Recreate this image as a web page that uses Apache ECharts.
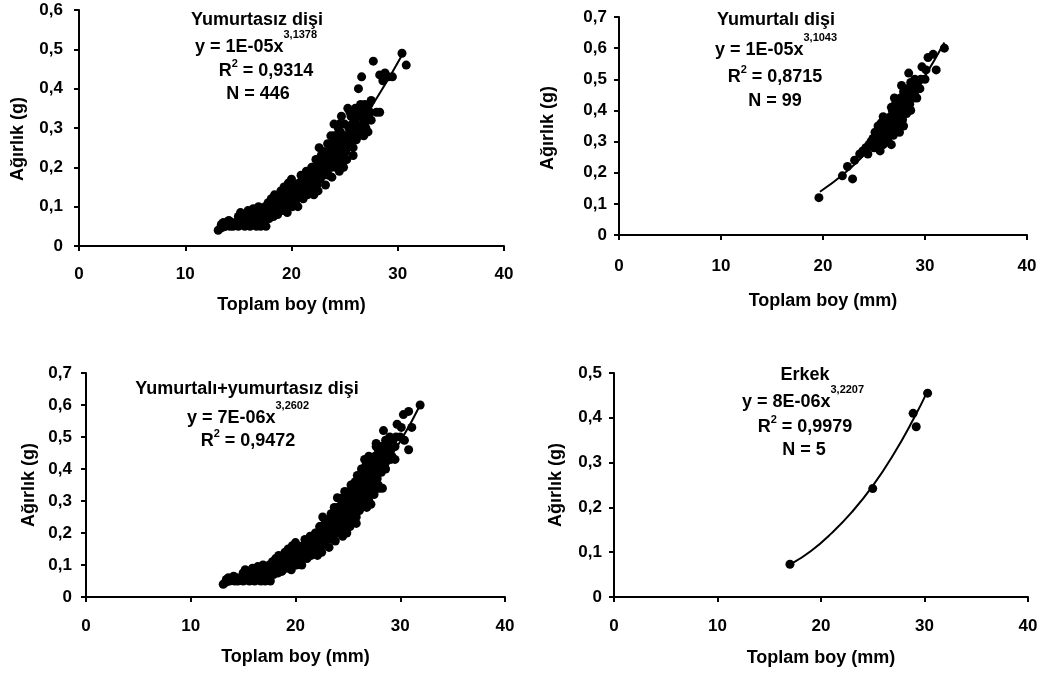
<!DOCTYPE html>
<html><head><meta charset="utf-8">
<script src="https://cdn.jsdelivr.net/npm/echarts@6/dist/echarts.min.js"></script>
<style>html,body{margin:0;padding:0;background:#fff}#c{width:1048px;height:675px}</style>
</head><body><div id="c"></div>
<script>
const FONT = "'Liberation Sans', Arial, Helvetica, sans-serif";

// Yumurtasız dişi: [Toplam boy (mm), Ağırlık (g)]
const yumurtasizPoints = [
[13.1,0.040],[13.3,0.045],[13.5,0.050],[13.6,0.060],[13.8,0.055],[14.0,0.060],[14.2,0.050],[14.4,0.060],[14.6,0.055],[14.8,0.060],
[15.0,0.050],[15.1,0.065],[15.2,0.085],[15.3,0.060],[15.5,0.070],[15.6,0.050],[15.7,0.080],[15.8,0.060],[15.9,0.090],[16.0,0.070],
[16.1,0.050],[16.2,0.080],[16.3,0.065],[16.4,0.095],[16.5,0.060],[16.6,0.075],[16.7,0.050],[16.8,0.085],[16.9,0.100],[17.0,0.065],
[17.1,0.050],[17.2,0.090],[17.3,0.075],[17.4,0.055],[17.5,0.100],[17.6,0.085],[17.7,0.070],[17.8,0.110],[17.9,0.090],[18.0,0.080],
[18.1,0.120],[18.2,0.100],[18.3,0.075],[18.4,0.130],[18.5,0.090],[18.6,0.110],[18.7,0.080],[18.8,0.120],[18.9,0.100],[19.0,0.140],
[19.1,0.090],[19.2,0.120],[19.3,0.150],[19.4,0.100],[19.5,0.130],[19.6,0.085],[19.7,0.160],[19.8,0.110],[19.9,0.140],[20.0,0.170],
[20.1,0.100],[20.2,0.130],[20.3,0.155],[20.4,0.115],[20.5,0.140],[20.6,0.100],[20.7,0.160],[20.8,0.125],[20.9,0.180],[21.0,0.140],
[21.1,0.120],[21.2,0.170],[21.3,0.150],[21.4,0.190],[21.5,0.130],[21.6,0.165],[21.7,0.185],[21.8,0.140],[21.9,0.200],[22.0,0.160],
[22.1,0.130],[22.2,0.180],[22.3,0.220],[22.4,0.155],[22.5,0.200],[22.6,0.250],[22.7,0.170],[22.8,0.230],[22.9,0.190],[23.0,0.240],
[23.1,0.200],[23.2,0.155],[23.3,0.220],[23.4,0.260],[23.5,0.180],[23.6,0.240],[23.7,0.280],[23.8,0.200],[23.9,0.260],[24.0,0.310],
[24.1,0.220],[24.2,0.280],[24.3,0.240],[24.4,0.300],[24.5,0.190],[24.6,0.260],[24.7,0.330],[24.8,0.210],[24.9,0.280],[25.0,0.310],
[25.1,0.240],[25.2,0.220],[25.3,0.350],[25.4,0.300],[25.5,0.260],[25.6,0.330],[25.7,0.280],[25.8,0.250],[25.9,0.310],[26.0,0.300],
[26.1,0.270],[26.2,0.340],[26.3,0.400],[26.4,0.290],[26.5,0.360],[26.6,0.430],[26.7,0.310],[26.8,0.280],[26.9,0.360],[27.0,0.300],
[27.1,0.350],[27.3,0.360],[27.5,0.320],[27.7,0.470],[28.0,0.340],[28.3,0.340],[28.3,0.435],[28.6,0.420],[28.8,0.440],[29.1,0.430],
[29.5,0.430],[30.4,0.490],[30.8,0.460],
[13.4,0.055],[14.1,0.065],[14.5,0.050],[15.4,0.055],[15.9,0.055],[16.3,0.080],[16.6,0.090],[17.0,0.080],[17.3,0.060],[17.6,0.050],
[17.9,0.070],[18.2,0.085],[18.5,0.105],[18.9,0.125],[19.3,0.110],[19.6,0.125],[20.0,0.110],[20.4,0.135],[20.8,0.145],[21.2,0.130],
[21.6,0.150],[22.0,0.180],[22.4,0.200],[22.8,0.210],[23.2,0.210],[23.6,0.220],[24.0,0.250],[24.4,0.270],[24.8,0.250],[25.2,0.280],
[25.6,0.300],[26.0,0.320],[26.4,0.330],[26.8,0.330],[27.2,0.290],[25.0,0.270],[24.2,0.200],[23.0,0.180],[22.0,0.200],[21.0,0.160],
[20.0,0.145],[19.0,0.110],[18.0,0.100],[17.0,0.095],[16.0,0.085],[15.0,0.075],
[19.2,0.105],[19.5,0.115],[19.8,0.130],[20.2,0.120],[20.6,0.130],[20.9,0.150],[21.3,0.135],[21.5,0.160],[21.8,0.170],[22.1,0.150],
[22.3,0.170],[22.6,0.190],[22.9,0.200],[23.1,0.230],[23.3,0.190],[23.5,0.210],[23.7,0.240],[23.9,0.220],[24.1,0.260],[24.3,0.220],
[24.5,0.240],[24.6,0.290],[24.9,0.230],[25.1,0.270],[25.3,0.250],[25.5,0.290],[25.7,0.310],[25.9,0.270],[26.1,0.300],[26.3,0.280],
[26.5,0.300],[26.7,0.340],[26.9,0.310],[27.1,0.320],[27.4,0.340],[26.0,0.350],[25.5,0.340],[24.5,0.310],[24.0,0.280],[23.4,0.240],
[22.7,0.220],[21.9,0.170],[21.1,0.150],[20.5,0.120],[19.9,0.120],[18.4,0.090],[18.7,0.100],[17.4,0.080],[16.9,0.070],[16.4,0.070],
[15.6,0.065],[14.9,0.055],[14.3,0.055],[13.7,0.050],[25.8,0.230],[24.9,0.200],[23.8,0.175],[22.5,0.140],[27.5,0.370],[27.0,0.330]
];

// Yumurtalı dişi
const yumurtaliPoints = [
[19.6,0.120],[21.9,0.190],[22.4,0.220],[22.9,0.180],[23.1,0.240],[23.6,0.260],[24.1,0.270],[24.4,0.260],[24.5,0.290],[24.7,0.300],
[24.9,0.310],[25.0,0.280],[25.1,0.300],[25.2,0.320],[25.3,0.290],[25.4,0.350],[25.5,0.310],[25.6,0.270],[25.7,0.330],[25.8,0.300],
[25.9,0.380],[25.9,0.290],[26.0,0.340],[26.1,0.310],[26.2,0.360],[26.3,0.320],[26.4,0.300],[26.5,0.370],[26.6,0.340],[26.7,0.290],
[26.7,0.410],[26.8,0.360],[26.9,0.320],[27.0,0.440],[27.0,0.380],[27.1,0.340],[27.2,0.400],[27.3,0.360],[27.4,0.420],[27.5,0.330],
[27.6,0.390],[27.7,0.480],[27.8,0.370],[27.9,0.350],[27.9,0.430],[28.0,0.410],[28.2,0.390],[28.3,0.450],[28.4,0.520],[28.5,0.420],
[28.6,0.400],[28.8,0.470],[28.9,0.440],[29.0,0.500],[29.2,0.440],[29.3,0.490],[29.5,0.470],[29.7,0.540],[30.0,0.500],[30.3,0.570],
[30.8,0.580],[31.1,0.530],[31.9,0.600],
[25.0,0.300],[25.5,0.330],[26.0,0.320],[26.3,0.350],[26.5,0.330],[26.9,0.390],[27.2,0.370],[27.5,0.410],[27.8,0.400],[28.1,0.430],
[28.4,0.410],[28.7,0.450],[29.0,0.460],[24.8,0.290],[25.3,0.310],[26.1,0.370],[27.4,0.350],[27.1,0.420],[28.2,0.470],[29.6,0.500],
[24.2,0.280],[23.9,0.270],[25.7,0.360],[26.6,0.380],[27.6,0.440],[28.9,0.480],[30.1,0.530],[26.4,0.340],[25.1,0.330],[27.9,0.460],
[28.6,0.490],[26.8,0.400],[27.3,0.390],[25.6,0.350],[27.7,0.400],[28.3,0.420]
];

// Erkek
const erkekPoints = [[17.0,0.073],[25.0,0.242],[28.9,0.410],[29.2,0.380],[30.3,0.455]];

// Trend lines
const yumurtasizTrend = [[13.2,0.037],[14,0.043],[16,0.065],[18,0.094],[20,0.130],[22,0.176],[24,0.231],[26,0.297],[28,0.375],[30.5,0.490]];
const yumurtaliTrend = [[19.7,0.139],[22,0.195],[24,0.256],[26,0.328],[28,0.412],[30,0.511],[31.9,0.618]];
const toplamTrend = [[13.3,0.038],[14,0.042],[16,0.063],[18,0.092],[20,0.130],[22,0.177],[24,0.235],[26,0.305],[28,0.388],[30,0.486],[31.9,0.600]];
const erkekTrend = [[17.2,0.075],[19,0.102],[21,0.142],[23,0.190],[25,0.248],[27,0.318],[29,0.400],[30.2,0.455]];

// Combined female sample = yumurtalı + yumurtasız
const toplamPoints = yumurtasizPoints.concat(yumurtaliPoints);

const yMaxes = [0.6, 0.7, 0.7, 0.5];
const xTitle = 'Toplam boy (mm)';
const yTitle = 'Ağırlık (g)';

const annotations = [
  [['t','Yumurtasız dişi'],['e','y = 1E-05x','3,1378'],['r','R','2',' = 0,9314'],['t','N = 446']],
  [['t','Yumurtalı dişi'],['e','y = 1E-05x','3,1043'],['r','R','2',' = 0,8715'],['t','N = 99']],
  [['t','Yumurtalı+yumurtasız dişi'],['e','y = 7E-06x','3,2602'],['r','R','2',' = 0,9472']],
  [['t','Erkek'],['e','y = 8E-06x','3,2207'],['r','R','2',' = 0,9979'],['t','N = 5']]
];

const layout = [
  {grid:{left:79,top:10,width:425,height:236}, yGap:52, xGap:50, xMargin:20, yMargin:16, yNamePad:[0,22,0,0],
   ann:[[257,20],[256,47],[266,71],[258,94]]},
  {grid:{left:619,top:17,width:408,height:218}, yGap:62, xGap:57, xMargin:23, yMargin:12, yNamePad:[0,4,0,0],
   ann:[[776,20],[776,50],[775,77],[775,101]]},
  {grid:{left:86,top:373,width:419,height:224}, yGap:48, xGap:51, xMargin:21, yMargin:14, yNamePad:0,
   ann:[[247,389],[248,418],[248,441]]},
  {grid:{left:614,top:373,width:414,height:224}, yGap:49, xGap:52, xMargin:21, yMargin:12, yNamePad:0,
   ann:[[805,375],[803,402],[805,427],[804,450]]}
];
const scatterSets = [yumurtasizPoints, yumurtaliPoints, toplamPoints, erkekPoints];
const trendSets = [yumurtasizTrend, yumurtaliTrend, toplamTrend, erkekTrend];

const fmtY = v => v === 0 ? '0' : v.toFixed(1).replace('.', ',');
const lblStyle = {color:'#000', fontFamily:FONT, fontWeight:'bold', fontSize:17};
const nameStyle = {color:'#000', fontFamily:FONT, fontWeight:'bold', fontSize:18};

const grids = [], xAxes = [], yAxes = [], series = [], graphics = [];
layout.forEach((p, i) => {
  grids.push(Object.assign({containLabel:false}, p.grid));
  xAxes.push({
    type:'value', gridIndex:i, min:0, max:40, interval:10,
    name:xTitle, nameLocation:'middle', nameGap:p.xGap, nameTextStyle:nameStyle,
    axisLine:{show:true, onZero:false, lineStyle:{color:'#000', width:2}},
    axisTick:{show:true, inside:false, length:5, lineStyle:{color:'#000', width:2}},
    splitLine:{show:false},
    axisLabel:Object.assign({margin:p.xMargin}, lblStyle)
  });
  yAxes.push({
    type:'value', gridIndex:i, min:0, max:yMaxes[i], interval:0.1,
    name:yTitle, nameLocation:'middle', nameGap:p.yGap,
    nameTextStyle:Object.assign({padding:p.yNamePad}, nameStyle),
    axisLine:{show:true, onZero:false, lineStyle:{color:'#000', width:2}},
    axisTick:{show:true, inside:false, length:5, lineStyle:{color:'#000', width:2}},
    splitLine:{show:false},
    axisLabel:Object.assign({margin:p.yMargin, formatter:fmtY}, lblStyle)
  });
  series.push({
    type:'scatter', xAxisIndex:i, yAxisIndex:i, data:scatterSets[i],
    symbol:'circle', symbolSize:9, itemStyle:{color:'#000', opacity:1},
    silent:true, animation:false, z:2
  });
  series.push({
    type:'line', xAxisIndex:i, yAxisIndex:i, data:trendSets[i],
    smooth:true, showSymbol:false, symbol:'none',
    lineStyle:{color:'#000', width:2}, silent:true, animation:false, z:3
  });
  const rich = {
    b:{fontSize:18, fontWeight:'bold', fontFamily:FONT, fill:'#000', color:'#000', lineHeight:36},
    r:{fontSize:18, fontWeight:'bold', fontFamily:FONT, fill:'#000', color:'#000', lineHeight:26},
    s:{fontSize:11, fontWeight:'bold', fontFamily:FONT, fill:'#000', color:'#000', lineHeight:11, verticalAlign:'top'}
  };
  annotations[i].forEach((line, k) => {
    const pos = p.ann[k];
    let text;
    if (line[0] === 't') text = '{r|' + line[1] + '}';
    else if (line[0] === 'e') text = '{b|' + line[1] + '}{s|' + line[2] + '}';
    else text = '{r|' + line[1] + '}{s|' + line[2] + '}{r|' + line[3] + '}';
    graphics.push({
      type:'text', x:pos[0], y:pos[1], silent:true,
      style:{text:text, rich:rich, align:'center', verticalAlign:'middle',
             fontSize:18, fontWeight:'bold', fontFamily:FONT, fill:'#000'}
    });
  });
});

const chart = echarts.init(document.getElementById('c'), null, {renderer:'canvas'});
chart.setOption({
  backgroundColor:'#fff',
  animation:false,
  grid:grids, xAxis:xAxes, yAxis:yAxes, series:series,
  graphic:{elements:graphics}
});
</script>
</body></html>
